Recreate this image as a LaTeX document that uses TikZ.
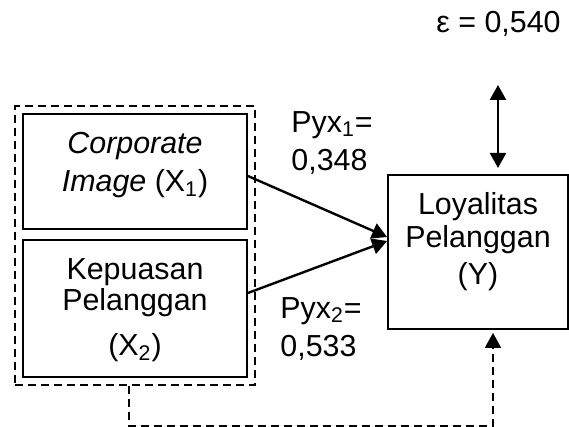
\documentclass[tikz,border=0pt]{standalone}
\usepackage{fontspec}
\setmainfont{Liberation Sans}
\usetikzlibrary{arrows.meta,fit}
\tikzset{
  box/.style={draw,line width=0.9pt,inner sep=0pt},
  txt/.style={align=center,inner sep=0pt,font=\fontsize{15.2}{19}\selectfont},
  path/.style={line width=1.2pt,-{Triangle[length=7.5pt,width=8pt]}},
  grpbox/.style={draw,line width=0.8pt,dash pattern=on 4pt off 2.5pt},
  feedback/.style={line width=0.9pt,dash pattern=on 4pt off 2.5pt,-{Triangle[length=7.5pt,width=8pt]}}
}
\begin{document}
\begin{tikzpicture}[x=0.5pt,y=-0.5pt]
\useasboundingbox (0,0) rectangle (569,427);
% boxes
\node[box,minimum width=112pt,minimum height=57.5pt] (x1) at (135,171.5) {};
\node[box,minimum width=112pt,minimum height=68.5pt] (x2) at (135,308.5) {};
\node[box,minimum width=90pt,minimum height=77pt] (y) at (478,252) {};
\node[grpbox,inner sep=3.5pt,fit=(x1)(x2)] (grp) {};
% texts
\node[txt] (x1txt) at (135,165) {\textit{Corporate}\\\textit{Image} (X\textsubscript{1})};
\node[txt,font=\fontsize{15.2}{15.5}\selectfont] (x2txt) at (135,310) {Kepuasan\\Pelanggan\\[7pt](X\textsubscript{2})};
\node[txt,font=\fontsize{15.2}{16.5}\selectfont] (ytxt) at (478,242) {Loyalitas\\Pelanggan\\[2pt](Y)};
\node[txt,align=left,anchor=west] (p1) at (291,142.5) {Pyx\textsubscript{1}=\\0,348};
\node[txt,align=left,anchor=west] (p2) at (280,328.5) {Pyx\textsubscript{2}=\\0,533};
\node[txt,anchor=base] (eps) at (498.5,33) {ε = 0,540};
% connectors
\coordinate (a1) at ([yshift=-2.25pt]x1.east);
\coordinate (a2) at ([yshift=7.75pt]x2.east);
\coordinate (t1) at ([yshift=7.5pt]y.west);
\coordinate (t2) at ([yshift=5.5pt]y.west);
\coordinate (e1) at (498,85);
\coordinate (e2) at (498,168);
\draw[path] (a1) -- (t1);
\draw[path] (a2) -- (t2);
\draw[line width=1.2pt,{Triangle[length=7.5pt,width=8pt]}-{Triangle[length=7.5pt,width=8pt]}] (e1) -- (e2);
\draw[feedback,shorten >=1.5pt] ([xshift=-3pt]grp.south) -- ++(0,40) -| ([xshift=7.5pt]y.south);
\end{tikzpicture}
\end{document}
